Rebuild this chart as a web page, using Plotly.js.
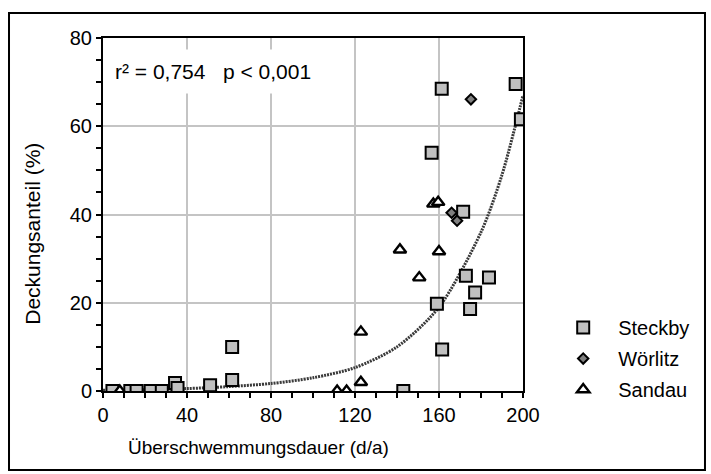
<!DOCTYPE html>
<html>
<head>
<meta charset="utf-8">
<script src="https://cdn.plot.ly/plotly-3.0.1.min.js"></script>
<style>
  html, body { margin: 0; padding: 0; background: #fff; }
  #chart { width: 711px; height: 474px; }
</style>
</head>
<body>
<div id="chart"></div>
<script>
// Deckungsanteil vs. Überschwemmungsdauer at three sites
const steckbyX = [4.5, 13, 16, 22.7, 28, 34.3, 35.5, 51, 61.5, 61.5, 143, 156.5, 159, 161.3, 161.5, 171.5, 172.8, 174.8, 177.2, 183.8, 196.5, 199];
const steckbyY = [0, 0, 0, 0, 0, 1.8, 0.7, 1.3, 2.5, 10, 0, 54, 19.8, 68.5, 9.4, 40.6, 26.1, 18.6, 22.3, 25.7, 69.6, 61.6];

const woerlitzX = [166, 168.6, 175.2];
const woerlitzY = [40.4, 38.6, 66.1];

const sandauX = [8, 111.5, 116, 122.8, 122.8, 141.4, 150.6, 157.3, 159.6, 160];
const sandauY = [0, 0, 0, 2.0, 13.4, 32, 25.7, 42.4, 42.8, 31.6];

// exponential trend line, sampled along x
const trendX = [0, 20, 40, 60, 80, 100, 120, 140, 160, 180, 190, 200];
const trendY = [0.15, 0.3, 0.55, 1.0, 1.7, 3.0, 5.3, 10, 19, 36, 49, 67];

const xTicks = [0, 40, 80, 120, 160, 200];
const yTicks = [0, 20, 40, 60, 80];

const xTitle = 'Überschwemmungsdauer (d/a)';
const yTitle = 'Deckungsanteil (%)';
const statsText = 'r² = 0,754\u00a0\u00a0\u00a0p &lt; 0,001';

const FONT = 'Liberation Sans, Arial, Helvetica, sans-serif';

const traces = [
  {
    x: trendX, y: trendY, type: 'scatter', mode: 'lines',
    line: {color: '#3a3a3a', width: 3, dash: '2px,1px', shape: 'spline', smoothing: 0.8},
    showlegend: false, hoverinfo: 'skip'
  },
  {
    x: steckbyX, y: steckbyY, type: 'scatter', mode: 'markers', name: 'Steckby',
    legendgroup: 'a', cliponaxis: true,
    marker: {symbol: 'square', size: 12, color: '#c0c0c0', line: {color: '#000', width: 2}}
  },
  {
    x: woerlitzX, y: woerlitzY, type: 'scatter', mode: 'markers', name: 'Wörlitz',
    legendgroup: 'b', cliponaxis: true,
    marker: {symbol: 'diamond', size: 8, color: '#808080', line: {color: '#000', width: 2}}
  },
  {
    x: sandauX, y: sandauY, type: 'scatter', mode: 'markers', name: 'Sandau',
    legendgroup: 'c', cliponaxis: true,
    marker: {symbol: 'triangle-up', size: 11, color: '#fff', line: {color: '#000', width: 2.4}}
  }
];

const axisCommon = {
  showline: true, linecolor: '#000', linewidth: 2, mirror: true,
  showgrid: true, gridcolor: '#c4c4c4', gridwidth: 2,
  zeroline: false,
  ticks: 'outside', ticklen: 5, tickwidth: 2, tickcolor: '#000',
  tickfont: {family: FONT, size: 20, color: '#000'},
  fixedrange: true
};

const layout = {
  width: 711, height: 474,
  margin: {l: 103, r: 188, t: 38, b: 83},
  paper_bgcolor: '#fff', plot_bgcolor: '#fff',
  font: {family: FONT, size: 20, color: '#000'},
  xaxis: Object.assign({}, axisCommon, {
    range: [0, 200], tickvals: xTicks, ticktext: xTicks.map(String),
    minor: {dtick: 10, tick0: 0, ticks: 'outside', ticklen: 5, tickwidth: 2, tickcolor: '#000', showgrid: false}
  }),
  yaxis: Object.assign({}, axisCommon, {
    range: [0, 80], tickvals: yTicks, ticktext: yTicks.map(String),
    minor: {dtick: 5, tick0: 0, ticks: 'outside', ticklen: 5, tickwidth: 2, tickcolor: '#000', showgrid: false}
  }),
  legend: {
    x: 1.06, xanchor: 'left', y: 0.235, yanchor: 'top',
    itemwidth: 60, traceorder: 'grouped', tracegroupgap: 2,
    font: {family: FONT, size: 20, color: '#000'},
    bgcolor: 'rgba(0,0,0,0)', borderwidth: 0
  },
  annotations: [
    {
      xref: 'paper', yref: 'paper', x: 0.002, y: 0.904,
      xanchor: 'left', yanchor: 'middle', showarrow: false,
      text: statsText,
      font: {family: FONT, size: 21, color: '#000'},
      bgcolor: '#fff', borderpad: 10
    },
    {
      // x-axis title
      xref: 'paper', yref: 'paper', x: 0.371, y: -0.159,
      xanchor: 'center', yanchor: 'middle', showarrow: false,
      text: xTitle, font: {family: FONT, size: 19, color: '#000'}
    },
    {
      // y-axis title
      xref: 'paper', yref: 'paper', x: -0.167, y: 0.445,
      xanchor: 'center', yanchor: 'middle', showarrow: false, textangle: -90,
      text: yTitle, font: {family: FONT, size: 21, color: '#000'}
    }
  ],
  shapes: [{
    type: 'rect', xref: 'paper', yref: 'paper',
    x0: -0.2238, x1: 1.4333, y0: -0.2238, y1: 1.0708,
    line: {color: '#000', width: 2}, fillcolor: 'rgba(0,0,0,0)', layer: 'below'
  }]
};

Plotly.newPlot('chart', traces, layout, {displayModeBar: false, staticPlot: true});
</script>
</body>
</html>
